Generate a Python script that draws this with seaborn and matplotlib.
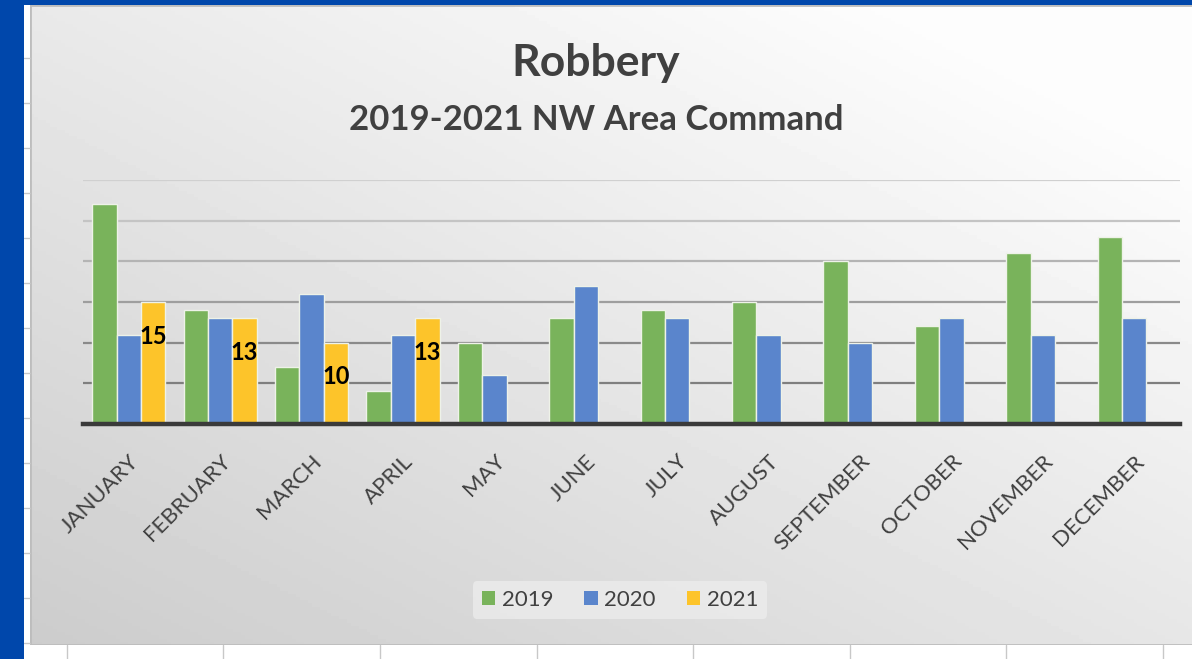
import numpy as np
import pandas as pd
import matplotlib
matplotlib.use("Agg")
import matplotlib.pyplot as plt
from matplotlib.patches import Rectangle
from matplotlib.lines import Line2D
import seaborn as sns

# ---------------------------------
# Data
# ---------------------------------

months = ["JANUARY", "FEBRUARY", "MARCH", "APRIL", "MAY", "JUNE",
          "JULY", "AUGUST", "SEPTEMBER", "OCTOBER", "NOVEMBER", "DECEMBER"]
years = ["2019", "2020", "2021"]
robbery_2019 = [27, 14, 7, 4, 10, 13, 14, 15, 20, 12, 21, 23]
robbery_2020 = [11, 13, 16, 11, 6, 17, 13, 11, 10, 13, 11, 13]
robbery_2021 = [15, 13, 10, 13, None, None, None, None, None, None, None, None]
year_colors = ["#79B35B", "#5A85CC", "#FDC42A"]

rows = []
for yr, vals in zip(years, [robbery_2019, robbery_2020, robbery_2021]):
    for m, v in zip(months, vals):
        if v is not None:
            rows.append({"month": m, "year": yr, "count": v})
df = pd.DataFrame(rows)

# ---------------------------------
# Figure + slide-like background
# ---------------------------------

sns.set_style("white")
plt.rcParams["font.family"] = ["Lato", "DejaVu Sans"]

W, H = 1192, 659
fig = plt.figure(figsize=(W / 100, H / 100), dpi=100, facecolor="white")

def fx(px):
    return px / W

def fy(py):
    return 1 - py / H

# blue slide frame
fig.patches.append(Rectangle((0, 0), fx(24), 1, transform=fig.transFigure,
                             facecolor="#0047AB", edgecolor="none", zorder=0))
fig.patches.append(Rectangle((0, fy(5)), 1, 1 - fy(5), transform=fig.transFigure,
                             facecolor="#0047AB", edgecolor="none", zorder=0))

# small table lines at the edges
for py in range(58, 645, 45):
    fig.lines.append(Line2D([fx(24), fx(30)], [fy(py), fy(py)], transform=fig.transFigure,
                            color="#c8c8c8", lw=1, zorder=0))
for px in [67, 223, 380, 537, 693, 850, 1006, 1163]:
    fig.lines.append(Line2D([fx(px), fx(px)], [0, fy(645)], transform=fig.transFigure,
                            color="#c8c8c8", lw=1, zorder=0))

# chart area with grey gradient
bg = fig.add_axes([fx(30), fy(645), fx(1192 - 30) + 0.01, fy(5) - fy(645)], zorder=0)
gx = np.linspace(0, 1, 300)
gy = np.linspace(0, 1, 200)
GX, GY = np.meshgrid(gx, gy)
grad = 0.80 + 0.19 * np.clip(0.55 * GX + 0.6 * GY, 0, 1)
bg.imshow(grad, cmap="gray", vmin=0, vmax=1, origin="lower", aspect="auto",
          extent=[0, 1, 0, 1])
bg.set_axis_off()
bg.add_patch(Rectangle((0, 0), 1, 1, transform=bg.transAxes, fill=False,
                       edgecolor="#bdbdbd", lw=2))

# ---------------------------------
# Bar chart
# ---------------------------------

ax = fig.add_axes([fx(83), fy(424), fx(1180 - 83), fy(180) - fy(424)], zorder=2)
ax.patch.set_alpha(0)

sns.barplot(
    data=df,
    x="month",
    y="count",
    hue="year",
    order=months,
    hue_order=years,
    palette=year_colors,
    edgecolor="#eef2e8",
    linewidth=1,
    saturation=1,
    ax=ax
)

ax.set_ylim(0, 30)
ax.set_xlim(-0.5, len(months) - 0.5)
ax.set_yticks([5, 10, 15, 20, 25, 30])
ax.yaxis.grid(True, linewidth=1.6)
ax.set_axisbelow(True)
grid_colors = ["#7f7f7f", "#8a8a8a", "#9e9e9e", "#b4b4b4", "#c4c4c4", "#d0d0d0"]
for gl, c in zip(ax.get_ygridlines(), grid_colors):
    gl.set_color(c)
ax.tick_params(axis="y", left=False, labelleft=False)
ax.tick_params(axis="x", bottom=False, pad=16)
ax.set_xlabel("")
ax.set_ylabel("")

for side in ["top", "right", "left"]:
    ax.spines[side].set_visible(False)
ax.spines["bottom"].set_color("#3a3a3a")
ax.spines["bottom"].set_linewidth(3.2)

plt.setp(ax.get_xticklabels(), rotation=45, ha="right", rotation_mode="anchor",
         fontsize=16, color="#404040")

# data labels for 2021
c21 = ax.containers[2]
labels = ["" if np.isnan(v) else f"{v:.0f}" for v in c21.datavalues]
ax.bar_label(c21, labels=labels, padding=-33, fontsize=17, fontweight="bold",
             color="black")

# legend
ax.get_legend().remove()
handles = [Rectangle((0, 0), 1, 1, facecolor=c, edgecolor="none") for c in year_colors]
leg = fig.legend(handles, years, loc="center", bbox_to_anchor=(fx(620), fy(600)),
                 ncol=3, fontsize=16, frameon=True, handlelength=0.6, handleheight=0.6,
                 handletextpad=0.3, columnspacing=1.4, labelcolor="#404040")
leg.get_frame().set_facecolor("#ececec")
leg.get_frame().set_edgecolor("none")
leg.get_frame().set_alpha(0.8)

# ---------------------------------
# Titles
# ---------------------------------

fig.text(0.5, fy(76), "Robbery", ha="center", va="baseline",
         fontsize=32, fontweight="bold", color="#404040")
fig.text(0.5, fy(130), "2019-2021 NW Area Command", ha="center", va="baseline",
         fontsize=25, fontweight="bold", color="#404040")

fig.savefig("out.png", dpi=100, facecolor=fig.get_facecolor())
